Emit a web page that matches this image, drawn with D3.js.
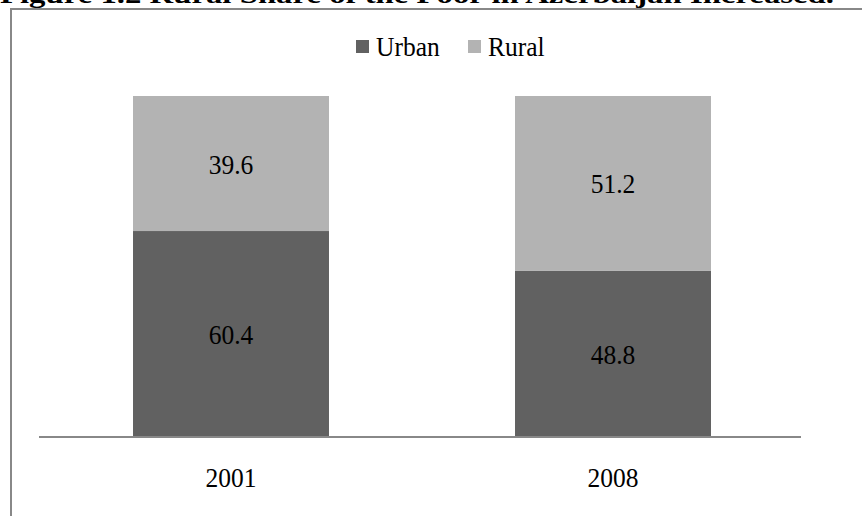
<!DOCTYPE html>
<html>
<head>
<meta charset="utf-8">
<script src="https://cdn.jsdelivr.net/npm/d3@7"></script>
<style>
  html, body { margin: 0; padding: 0; background: #fff; overflow: hidden; }
  svg { display: block; font-family: "Liberation Serif", "Times New Roman", serif; }
</style>
</head>
<body>
<svg id="chart" width="862" height="516"></svg>
<script>
const title = "Figure 1.2 Rural Share of the Poor in Azerbaijan Increased.";
const categories = ["2001", "2008"];
const seriesNames = ["Urban", "Rural"];
const urban = [60.4, 48.8];
const rural = [39.6, 51.2];
const colors = ["#616161", "#b3b3b3"];

const svg = d3.select("#chart");
const FS = 28;

// frame border (extends beyond the picture right and bottom)
svg.append("rect")
  .attr("x", 11).attr("y", 9)
  .attr("width", 900).attr("height", 560)
  .attr("fill", "none").attr("stroke", "#888").attr("stroke-width", 2);

// title (partially clipped at top, as in the source)
svg.append("text")
  .attr("x", 0).attr("y", 3)
  .attr("font-weight", "bold").attr("font-size", 26)
  .attr("textLength", 834).attr("lengthAdjust", "spacingAndGlyphs")
  .attr("fill", "#000")
  .text(title);

const x = d3.scaleBand().domain(categories).range([40, 804])
  .paddingInner(0.487).paddingOuter(0.2435);
const y = d3.scaleLinear().domain([0, 100]).range([437, 96]);

const data = categories.map((c, i) => ({ cat: c, Urban: urban[i], Rural: rural[i] }));
const stacked = d3.stack().keys(seriesNames)(data);
const color = d3.scaleOrdinal().domain(seriesNames).range(colors);

const g = svg.append("g");
stacked.forEach(layer => {
  g.selectAll(null).data(layer).enter().append("rect")
    .attr("x", d => x(d.data.cat))
    .attr("y", d => y(d[1]))
    .attr("width", x.bandwidth())
    .attr("height", d => y(d[0]) - y(d[1]))
    .attr("fill", color(layer.key));
  g.selectAll(null).data(layer).enter().append("text")
    .attr("class", "cond")
    .attr("x", d => x(d.data.cat) + x.bandwidth() / 2)
    .attr("y", d => (y(d[0]) + y(d[1])) / 2 + 10)
    .attr("text-anchor", "middle")
    .attr("font-size", FS)
    .attr("fill", "#000")
    .text(d => d3.format(".1f")(d[1] - d[0]));
});

// x axis
const xAxis = svg.append("g").attr("transform", "translate(0,437)")
  .call(d3.axisBottom(x).tickSize(0).tickPadding(30));
xAxis.select(".domain").attr("stroke", "#888").attr("stroke-width", 2)
  .attr("d", "M39,0H801");
xAxis.selectAll("text").attr("class", "cond").attr("font-size", FS).attr("fill", "#000")
  .attr("font-family", "Liberation Serif, Times New Roman, serif");

// legend
const legend = svg.append("g");
const legendX = [356, 468];
seriesNames.forEach((s, i) => {
  legend.append("rect")
    .attr("x", legendX[i]).attr("y", 40)
    .attr("width", 13).attr("height", 13)
    .attr("fill", color(s));
  legend.append("text")
    .attr("class", "cond")
    .attr("x", legendX[i] + 20).attr("y", 56)
    .attr("font-size", FS).attr("fill", "#000")
    .text(s);
});

// slightly condensed glyphs, as in the source picture
svg.selectAll("text.cond").each(function () {
  const w = this.getComputedTextLength();
  d3.select(this).attr("textLength", w * 0.91).attr("lengthAdjust", "spacingAndGlyphs");
});
</script>
</body>
</html>
